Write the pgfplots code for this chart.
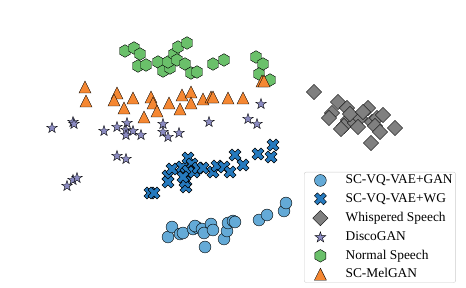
\documentclass[border=0pt]{standalone}
\usepackage{fontspec}
\setmainfont{Liberation Serif}
\usepackage{pgfplots}
\pgfplotsset{compat=1.18}
\definecolor{cgan}{RGB}{100,170,215}
\definecolor{cwg}{RGB}{38,122,190}
\definecolor{cwh}{RGB}{128,128,128}
\definecolor{cdisco}{RGB}{140,140,195}
\definecolor{cnorm}{RGB}{106,192,106}
\definecolor{cmel}{RGB}{245,135,50}
\definecolor{cframe}{RGB}{204,204,204}
\pgfdeclareplotmark{hexa}{%
  \pgfpathmoveto{\pgfpointpolar{90}{\pgfplotmarksize}}%
  \pgfpathlineto{\pgfpointpolar{150}{\pgfplotmarksize}}%
  \pgfpathlineto{\pgfpointpolar{210}{\pgfplotmarksize}}%
  \pgfpathlineto{\pgfpointpolar{270}{\pgfplotmarksize}}%
  \pgfpathlineto{\pgfpointpolar{330}{\pgfplotmarksize}}%
  \pgfpathlineto{\pgfpointpolar{30}{\pgfplotmarksize}}%
  \pgfpathclose\pgfusepathqfillstroke}
\pgfdeclareplotmark{fstar}{%
  \pgfpathmoveto{\pgfpointpolar{90}{\pgfplotmarksize}}%
  \pgfpathlineto{\pgfpointpolar{126}{0.382\pgfplotmarksize}}%
  \pgfpathlineto{\pgfpointpolar{162}{\pgfplotmarksize}}%
  \pgfpathlineto{\pgfpointpolar{198}{0.382\pgfplotmarksize}}%
  \pgfpathlineto{\pgfpointpolar{234}{\pgfplotmarksize}}%
  \pgfpathlineto{\pgfpointpolar{270}{0.382\pgfplotmarksize}}%
  \pgfpathlineto{\pgfpointpolar{306}{\pgfplotmarksize}}%
  \pgfpathlineto{\pgfpointpolar{342}{0.382\pgfplotmarksize}}%
  \pgfpathlineto{\pgfpointpolar{18}{\pgfplotmarksize}}%
  \pgfpathlineto{\pgfpointpolar{54}{0.382\pgfplotmarksize}}%
  \pgfpathclose\pgfusepathqfillstroke}
\pgfdeclareplotmark{fx}{%
  \pgfpathmoveto{\pgfpoint{-0.5\pgfplotmarksize}{-1\pgfplotmarksize}}%
  \pgfpathlineto{\pgfpoint{0pt}{-0.5\pgfplotmarksize}}%
  \pgfpathlineto{\pgfpoint{0.5\pgfplotmarksize}{-1\pgfplotmarksize}}%
  \pgfpathlineto{\pgfpoint{1\pgfplotmarksize}{-0.5\pgfplotmarksize}}%
  \pgfpathlineto{\pgfpoint{0.5\pgfplotmarksize}{0pt}}%
  \pgfpathlineto{\pgfpoint{1\pgfplotmarksize}{0.5\pgfplotmarksize}}%
  \pgfpathlineto{\pgfpoint{0.5\pgfplotmarksize}{1\pgfplotmarksize}}%
  \pgfpathlineto{\pgfpoint{0pt}{0.5\pgfplotmarksize}}%
  \pgfpathlineto{\pgfpoint{-0.5\pgfplotmarksize}{1\pgfplotmarksize}}%
  \pgfpathlineto{\pgfpoint{-1\pgfplotmarksize}{0.5\pgfplotmarksize}}%
  \pgfpathlineto{\pgfpoint{-0.5\pgfplotmarksize}{0pt}}%
  \pgfpathlineto{\pgfpoint{-1\pgfplotmarksize}{-0.5\pgfplotmarksize}}%
  \pgfpathclose\pgfusepathqfillstroke}
\pgfdeclareplotmark{fdia}{%
  \pgfpathmoveto{\pgfpoint{0pt}{1.414\pgfplotmarksize}}%
  \pgfpathlineto{\pgfpoint{-1.414\pgfplotmarksize}{0pt}}%
  \pgfpathlineto{\pgfpoint{0pt}{-1.414\pgfplotmarksize}}%
  \pgfpathlineto{\pgfpoint{1.414\pgfplotmarksize}{0pt}}%
  \pgfpathclose\pgfusepathqfillstroke}
\pgfdeclareplotmark{ftri}{%
  \pgfpathmoveto{\pgfpoint{0pt}{1\pgfplotmarksize}}%
  \pgfpathlineto{\pgfpoint{-1\pgfplotmarksize}{-1\pgfplotmarksize}}%
  \pgfpathlineto{\pgfpoint{1\pgfplotmarksize}{-1\pgfplotmarksize}}%
  \pgfpathclose\pgfusepathqfillstroke}
\begin{document}
\begin{tikzpicture}
\path (0,0) rectangle (466pt,288pt);
\begin{axis}[at={(0,0)}, anchor=south west,
  width=466pt, height=288pt, scale only axis,
  xmin=0, xmax=466, ymin=0, ymax=288, y dir=reverse,
  axis lines=none, clip=false,
  every axis plot/.append style={only marks, mark size=5.9pt,
    mark options={draw=black!85, line width=0.8pt}},
  legend cell align=left,
  legend image code/.code={\path (0pt,-5pt) (38pt,5pt);
    \draw[#1] plot coordinates {(13pt,0pt)};},
  legend style={at={(axis cs:304,172)}, anchor=north west,
    draw=cframe, rounded corners=2pt, inner xsep=3pt, inner ysep=1.5pt,
    font=\fontsize{13.4}{15}\selectfont, row sep=4.9pt,
    nodes={inner sep=0pt, text height=10pt, text depth=3.5pt}},
]
\addplot[mark=*, mark options={fill=cgan}] coordinates {
(168,237) (172,227) (180,234) (183,233) (193,229) (198,228) (195,226)
(202,229) (204,233) (205,247) (211,224) (213,230) (224,239) (227,231)
(228,223) (233,221) (235,222) (259,220) (267,215) (284,211) (286,203)};
\addlegendentry{SC-VQ-VAE+GAN}
\addplot[mark=fx, mark size=6pt, mark options={fill=cwg}] coordinates {
(150,193) (154,193) (168,176) (168,182) (172,169) (182,167) (188,158)
(192,164) (186,173) (186,187) (185,182) (188,171) (194,172) (198,168)
(203,168) (213,172) (217,166) (224,167) (230,172) (235,155) (243,165)
(258,154) (271,157) (273,145) (183,177)};
\addlegendentry{SC-VQ-VAE+WG}
\addplot[mark=fdia, mark size=5.4pt, mark options={fill=cwh}] coordinates {
(314,92) (338,102) (347,108) (332,113) (329,118) (348,120) (344,126)
(341,129) (355,123) (360,118) (350,114) (368,108) (363,112) (372,122)
(377,118) (383,115) (375,126) (380,132) (395,128) (371,143) (358,127)};
\addlegendentry{Whispered Speech}
\addplot[mark=fstar, mark size=5.6pt, mark options={fill=cdisco}] coordinates {
(52,128) (73,122) (74,124) (104,131) (117,127) (127,123) (126,130)
(126,135) (133,131) (141,135) (163,124) (163,132) (168,137) (179,133)
(209,122) (261,104) (248,119) (257,124) (117,156) (126,159) (67,186)
(73,180) (77,178)};
\addlegendentry{DiscoGAN}
\addplot[mark=hexa, mark size=6.3pt, mark options={fill=cnorm}] coordinates {
(125,51) (134,48) (140,54) (138,66) (146,65) (158,62) (163,71) (170,68)
(168,62) (174,54) (178,47) (187,43) (177,60) (185,64) (191,73) (197,72)
(213,64) (224,60) (256,57) (263,64) (259,74) (270,80)};
\addlegendentry{Normal Speech}
\addplot[mark=ftri, mark size=6pt, mark options={fill=cmel}] coordinates {
(85,87) (86,101) (117,93) (114,100) (133,98) (124,108) (151,97) (153,103)
(157,111) (144,117) (169,103) (180,109) (182,95) (191,92) (191,103)
(203,99) (211,97) (213,97) (228,98) (243,98) (262,81) (264,81)};
\addlegendentry{SC-MelGAN}
\end{axis}
\end{tikzpicture}
\end{document}
